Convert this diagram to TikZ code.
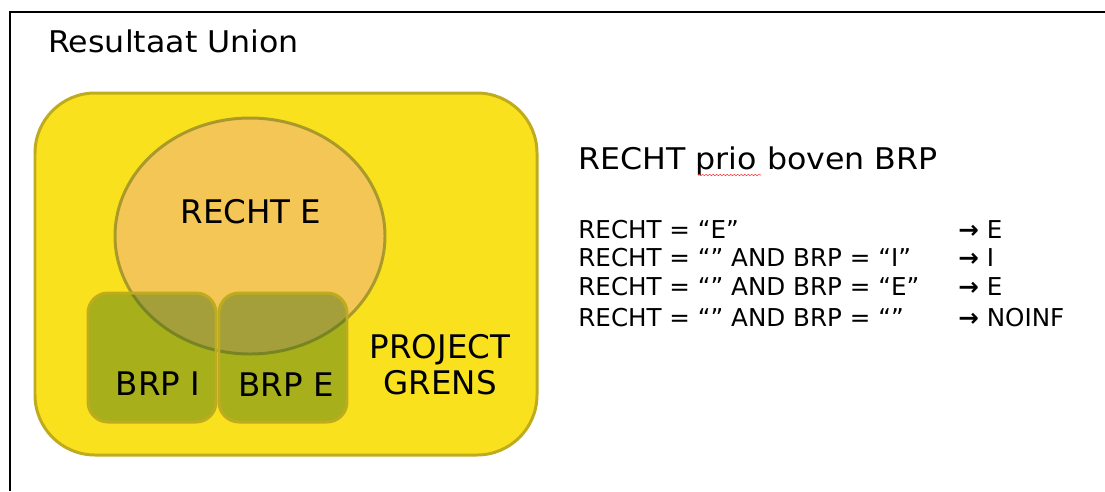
\documentclass[tikz,border=0pt]{standalone}
\usepackage{fontspec}
\setmainfont{DejaVu Sans}
\newfontfamily\wijdfont[FakeStretch=1.06]{DejaVu Sans}
\usetikzlibrary{decorations.pathmorphing}

\definecolor{grensgeel}{RGB}{249,225,30}
\definecolor{grensrand}{RGB}{190,172,30}
\definecolor{rechtoranje}{RGB}{241,172,140}
\definecolor{brpgroen}{RGB}{46,102,20}
\definecolor{rechtrand}{RGB}{150,140,40}

\tikzset{
	setbox/.style={draw=grensrand, line width=1.7pt},
	brpbox/.style={draw=grensrand, line width=1.7pt, fill=brpgroen, fill opacity=0.4, draw opacity=1, text opacity=1, rounded corners=0.4cm},
	kop/.style={anchor=west, inner sep=0pt, font=\wijdfont\fontsize{17}{20}\selectfont},
	rule/.style={anchor=west, inner sep=0pt, font=\fontsize{14}{16}\selectfont},
}

\begin{document}
\begin{tikzpicture}[x=0.02cm, y=-0.02cm]
	\useasboundingbox (0,0) rectangle (1105,491);
	% Frame
	\draw[line width=1.4pt] (10,491) -- (10,12) -- (1105,12);
	\node[kop] (titel) at (48,41) {Resultaat Union};

	% Sets
	\draw[setbox, fill=grensgeel, rounded corners=1.2cm] (35,93) rectangle (537,455);
	\draw[setbox, draw=rechtrand, fill=rechtoranje, fill opacity=0.5, draw opacity=0.8] (250,236) ellipse (135 and 118);
	\draw[brpbox] (88,293) rectangle (216,422);
	\draw[brpbox] (219,293) rectangle (347,422);

	% Labels
	\node[font=\fontsize{18.5}{22}\selectfont] (recht) at (251,212) {RECHT E};
	\node[font=\fontsize{18.5}{22}\selectfont] (brpi) at (158,384) {BRP I};
	\node[font=\fontsize{18.5}{22}\selectfont] (brpe) at (286,385) {BRP E};
	\node[font=\fontsize{18.5}{20.4}\selectfont, align=center] (project) at (440,365) {PROJECT\\GRENS};

	% Rules
	\node[kop] (prio) at (578,161) {RECHT prio boven BRP};
	\draw[red!80, line width=0.3pt, decorate, decoration={snake, amplitude=0.4pt, segment length=2pt}] (698,175) -- (761,175);
	\node[rule] (r1) at (578,230) {RECHT = “E”};
	\node[rule] (r2) at (578,258) {RECHT = “” AND BRP = “I”};
	\node[rule] (r3) at (578,287) {RECHT = “” AND BRP = “E”};
	\node[rule] (r4) at (578,318) {RECHT = “” AND BRP = “”};
	\node[rule] (u1) at (958,230) {{\bfseries →} E};
	\node[rule] (u2) at (958,258) {{\bfseries →} I};
	\node[rule] (u3) at (958,287) {{\bfseries →} E};
	\node[rule] (u4) at (958,318) {{\bfseries →} NOINF};
\end{tikzpicture}
\end{document}
